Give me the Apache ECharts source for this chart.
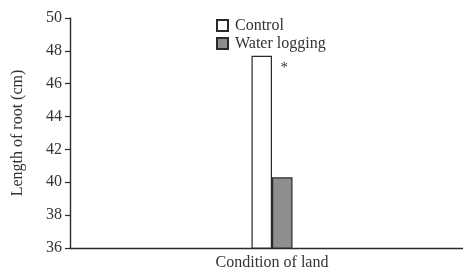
<!DOCTYPE html>
<html lang="en">
<head>
    <meta charset="UTF-8">
    <title>Length of root</title>
    <script src="https://cdn.jsdelivr.net/npm/echarts@6.0.0/dist/echarts.min.js"></script>
    <style>
        html, body { margin: 0; padding: 0; background: #fff; }
        #chart { width: 463px; height: 269px; }
    </style>
</head>
<body>
<div id="chart"></div>
<script>
    // 数据
    var categories = ['Condition of land'];
    var controlValues = [47.7];
    var waterLoggingValues = [40.3];
    var yTicks = {min: 36, max: 50, step: 2};

    var fontFamily = '"Liberation Serif", "DejaVu Serif", serif';
    var chart = echarts.init(document.getElementById('chart'));

    chart.setOption({
        animation: false,
        textStyle: {fontFamily: fontFamily, color: '#333'},
        // 网格比画布略宽，让柱子中心落在 x≈272
        grid: {left: 70, width: 404, top: 18, bottom: 21, outerBoundsMode: 'none', containLabel: false},
        legend: {
            orient: 'vertical',
            left: 216,
            top: 17.5,
            padding: 0,
            itemWidth: 11,
            itemHeight: 11,
            itemGap: 2,
            icon: 'rect',
            textStyle: {fontFamily: fontFamily, fontSize: 16, color: '#333', padding: [0, 0, 0, 2]},
            data: ['Control', 'Water logging']
        },
        xAxis: {
            type: 'category',
            data: categories,
            axisLine: {lineStyle: {color: '#2a2a2a', width: 1.4}},
            axisTick: {show: false},
            axisLabel: {fontFamily: fontFamily, fontSize: 16, color: '#333', margin: 7}
        },
        yAxis: {
            type: 'value',
            min: yTicks.min,
            max: yTicks.max,
            interval: yTicks.step,
            name: 'Length of root (cm)',
            nameLocation: 'middle',
            nameGap: 44,
            nameTextStyle: {fontFamily: fontFamily, fontSize: 16, color: '#333'},
            axisLine: {show: true, lineStyle: {color: '#2a2a2a', width: 1.4}},
            axisTick: {show: true, length: 5, lineStyle: {color: '#2a2a2a', width: 1.2}},
            axisLabel: {fontFamily: fontFamily, fontSize: 16, color: '#333', margin: 8},
            splitLine: {show: false}
        },
        series: [
            {
                name: 'Control',
                type: 'bar',
                data: controlValues,
                barWidth: 20.5,
                barGap: '0%',
                itemStyle: {color: '#ffffff', borderColor: '#2a2a2a', borderWidth: 1.2},
                label: {
                    show: true,
                    position: [29, 5],
                    formatter: '*',
                    fontFamily: fontFamily,
                    fontSize: 15,
                    color: '#333'
                }
            },
            {
                name: 'Water logging',
                type: 'bar',
                data: waterLoggingValues,
                barWidth: 20.5,
                itemStyle: {color: '#8e8e8e', borderColor: '#2a2a2a', borderWidth: 1.2}
            }
        ]
    });
</script>
</body>
</html>
